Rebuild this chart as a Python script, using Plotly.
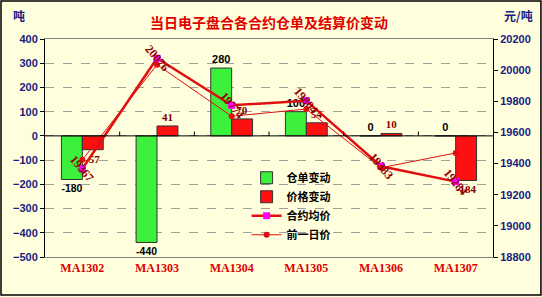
import plotly.graph_objects as go

categories = ["MA1302", "MA1303", "MA1304", "MA1305", "MA1306", "MA1307"]
warrant_change = [-180, -440, 280, 100, 0, 0]          # 仓单变动
price_change = [-57, 41, 70, 54, 10, -184]             # 价格变动
avg_price = [19367, 20076, 19774, 19804, 19383, 19284]  # 合约均价
prev_price = [19424, 20035, 19704, 19750, 19373, 19468] # 前一日价

left_ticks = [-500, -400, -300, -200, -100, 0, 100, 200, 300, 400]
right_ticks = [18800, 19000, 19200, 19400, 19600, 19800, 20000, 20200]

BG = "#FFFFDD"
NAVY = "#1A1A80"
xi = list(range(len(categories)))

fig = go.Figure()
fig.add_trace(go.Bar(
    x=xi, y=warrant_change, name="仓单变动",
    marker=dict(color="#3CF03C", line=dict(color="#333333", width=1)),
    text=[str(v) for v in warrant_change], textposition="outside",
    textfont=dict(family="Liberation Sans", size=11, color="black", weight="bold"),
    cliponaxis=False,
))
fig.add_trace(go.Bar(
    x=xi, y=price_change, name="价格变动",
    marker=dict(color="#FF1010", line=dict(color="#333333", width=1)),
    text=[str(v) for v in price_change], textposition="outside",
    textfont=dict(family="Liberation Serif", size=11, color="#800000", weight="bold"),
    cliponaxis=False,
))
fig.add_trace(go.Scatter(
    x=xi, y=avg_price, name="合约均价", yaxis="y2", mode="lines+markers",
    line=dict(color="#E01010", width=2.5),
    marker=dict(color="#FF00FF", size=7, symbol="square"),
))
fig.add_trace(go.Scatter(
    x=xi, y=prev_price, name="前一日价", yaxis="y2", mode="lines+markers",
    line=dict(color="#E01010", width=1),
    marker=dict(color="#E01010", size=6, symbol="circle"),
))

annotations = []
for i, v in zip(xi, avg_price):
    annotations.append(dict(
        x=i, y=v, xref="x", yref="y2", text=str(v), showarrow=False,
        textangle=50, font=dict(family="Liberation Serif", size=12, color="#900000", weight="bold"),
    ))
annotations += [
    dict(x=0.5, y=1.078, xref="paper", yref="paper", yanchor="middle", xanchor="center",
         text="当日电子盘合各合约仓单及结算价变动",
         showarrow=False, font=dict(family="Noto Sans CJK SC", size=14, color="#E00000", weight="bold")),
    dict(x=-0.075, y=1.11, xref="paper", yref="paper", yanchor="middle", text="吨", showarrow=False,
         font=dict(family="Noto Sans CJK SC", size=12, color=NAVY, weight="bold")),
    dict(x=1.02, y=1.11, xref="paper", yref="paper", yanchor="middle", text="元/吨", showarrow=False,
         xanchor="left",
         font=dict(family="Noto Sans CJK SC", size=12, color=NAVY, weight="bold")),
]

shapes = [
    dict(type="rect", xref="paper", yref="paper", x0=-0.0982, x1=1.107, y0=-0.174, y1=1.174,
         line=dict(color="black", width=1.5), layer="below"),
    dict(type="line", xref="paper", yref="y", x0=0, x1=1, y0=0, y1=0, line=dict(color="black", width=1)),
]
for b in [0.5, 1.5, 2.5, 3.5, 4.5]:
    shapes.append(dict(type="line", xref="x", yref="y", x0=b, x1=b, y0=0, y1=18,
                       line=dict(color="black", width=1)))

fig.update_layout(
    width=542, height=297,
    margin=dict(l=45, r=49, t=39, b=40),
    paper_bgcolor=BG, plot_bgcolor=BG,
    barmode="group", bargap=0.44, bargroupgap=0,
    showlegend=True,
    legend=dict(x=0.45, y=0.43, xanchor="left", yanchor="top", bgcolor="rgba(0,0,0,0)",
                font=dict(family="Noto Sans CJK SC", size=11, color="black", weight="bold"),
                tracegroupgap=0, itemwidth=30),
    xaxis=dict(range=[-0.5, 5.5], tickmode="array", tickvals=xi, ticktext=categories,
               showgrid=False, zeroline=False, showline=True, linecolor="#808080", mirror=True,
               ticks="", tickfont=dict(family="Liberation Serif", size=12, color="#E00000", weight="bold")),
    yaxis=dict(range=[-500, 400], tickvals=left_ticks, showgrid=True, gridcolor="#A0A0A0",
               griddash="dash", gridwidth=1, zeroline=False, showline=True, linecolor="black",
               ticks="outside", ticklen=4, tickcolor="black",
               tickfont=dict(family="Liberation Sans", size=11, color=NAVY, weight="bold")),
    yaxis2=dict(range=[18800, 20200], tickvals=right_ticks, ticktext=[str(t) for t in right_ticks],
                overlaying="y", side="right",
                showgrid=False, zeroline=False, showline=True, linecolor="black",
                ticks="outside", ticklen=4, tickcolor="black",
                tickfont=dict(family="Liberation Sans", size=11, color=NAVY, weight="bold")),
    annotations=annotations, shapes=shapes,
)

fig.write_html("out.html")
